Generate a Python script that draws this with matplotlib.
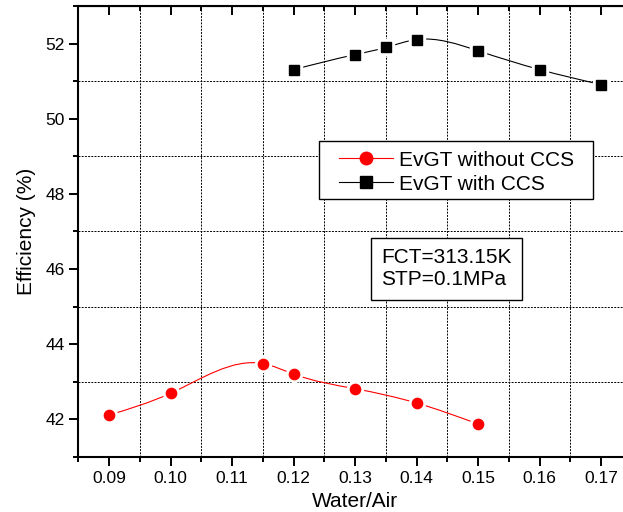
import numpy as np
import matplotlib
matplotlib.use("Agg")
import matplotlib.pyplot as plt
from matplotlib.path import Path
from matplotlib.patches import PathPatch, Rectangle
from matplotlib.lines import Line2D

plt.rcParams['font.family'] = ['Liberation Sans', 'DejaVu Sans']

# values
x_no_ccs = [0.09, 0.10, 0.115, 0.12, 0.13, 0.14, 0.15]
eff_no_ccs = [42.11, 42.69, 43.48, 43.20, 42.81, 42.43, 41.87]

x_ccs = [0.12, 0.13, 0.135, 0.14, 0.15, 0.16, 0.17]
eff_ccs = [51.31, 51.71, 51.90, 52.11, 51.81, 51.31, 50.91]

x_ticks = [0.09, 0.10, 0.11, 0.12, 0.13, 0.14, 0.15, 0.16, 0.17]
x_labels = ['0.09', '0.10', '0.11', '0.12', '0.13', '0.14', '0.15', '0.16', '0.17']
x_minor = [0.085, 0.095, 0.105, 0.115, 0.125, 0.135, 0.145, 0.155, 0.165, 0.175]
y_ticks = [42, 44, 46, 48, 50, 52]
y_minor = [41, 43, 45, 47, 49, 51, 53]


def spline_path(x, y):
    # natural cubic spline through the points, written as bezier segments
    x = np.asarray(x, float)
    y = np.asarray(y, float)
    n = len(x)
    h = np.diff(x)
    A = np.zeros((n, n))
    b = np.zeros(n)
    A[0, 0] = 1
    A[-1, -1] = 1
    for i in range(1, n - 1):
        A[i, i - 1] = h[i - 1]
        A[i, i] = 2 * (h[i - 1] + h[i])
        A[i, i + 1] = h[i]
        b[i] = 6 * ((y[i + 1] - y[i]) / h[i] - (y[i] - y[i - 1]) / h[i - 1])
    M = np.linalg.solve(A, b)
    verts = [(x[0], y[0])]
    codes = [Path.MOVETO]
    for i in range(n - 1):
        s = (y[i + 1] - y[i]) / h[i]
        d0 = s - h[i] * (2 * M[i] + M[i + 1]) / 6
        d1 = s + h[i] * (M[i] + 2 * M[i + 1]) / 6
        verts += [(x[i] + h[i] / 3, y[i] + d0 * h[i] / 3),
                  (x[i + 1] - h[i] / 3, y[i + 1] - d1 * h[i] / 3),
                  (x[i + 1], y[i + 1])]
        codes += [Path.CURVE4] * 3
    return Path(verts, codes)


fig = plt.figure(figsize=(6.23, 5.12), dpi=100)
ax = fig.add_axes([0.1257, 0.108, 0.8887, 0.880])

# curves
ax.add_patch(PathPatch(spline_path(x_no_ccs, eff_no_ccs), fill=False,
                       edgecolor='#ff0000', lw=0.8, zorder=2))
ax.add_patch(PathPatch(spline_path(x_ccs, eff_ccs), fill=False,
                       edgecolor='black', lw=0.8, zorder=2))

# white halo so the line stops short of the symbol
ax.plot(x_no_ccs, eff_no_ccs, 'o', ms=11.5, color='white', zorder=3)
ax.plot(x_ccs, eff_ccs, 's', ms=11, color='white', zorder=3)
ax.plot(x_no_ccs, eff_no_ccs, 'o', ms=7.4, color='#ff0000', mec='#ff0000', zorder=4)
ax.plot(x_ccs, eff_ccs, 's', ms=6.8, color='black', zorder=4)

ax.set_xlim(0.085, 0.175)
ax.set_ylim(41, 53)
ax.set_xticks(x_ticks)
ax.set_xticklabels(x_labels)
ax.set_xticks(x_minor, minor=True)
ax.set_yticks(y_ticks)
ax.set_yticks(y_minor, minor=True)

ax.grid(which='minor', ls=(0, (2, 1.3)), lw=0.7, color='black')
ax.grid(which='major', visible=False)
ax.set_axisbelow(True)

for sp in ax.spines.values():
    sp.set_linewidth(1.5)

ax.tick_params(which='major', direction='out', length=6.5, width=1.4,
               labelsize=12.5, pad=3)
ax.tick_params(which='minor', direction='out', length=3.8, width=1.4)
ax.tick_params(axis='x', which='major', pad=4)

# inward ticks on top and right
top = ax.secondary_xaxis('top')
top.set_xticks(x_ticks)
top.set_xticks(x_minor, minor=True)
top.tick_params(which='major', direction='in', length=6.5, width=1.4, labeltop=False)
top.tick_params(which='minor', direction='in', length=3.8, width=1.4)
right = ax.secondary_yaxis('right')
right.set_yticks(y_ticks)
right.set_yticks(y_minor, minor=True)
right.tick_params(which='major', direction='in', length=6.5, width=1.4, labelright=False)
right.tick_params(which='minor', direction='in', length=3.8, width=1.4)

ax.set_xlabel('Water/Air', fontsize=15, labelpad=4)
ax.set_ylabel('Efficiency (%)', fontsize=15, labelpad=7)

# legend frame drawn separately (Origin-style wide padding)
fig.patches.append(Rectangle((319 / 623, 1 - 199.3 / 512), 273.5 / 623, 58.3 / 512,
                             transform=fig.transFigure, fc='white', ec='black',
                             lw=1.0, zorder=5))
handles = [
    Line2D([], [], color='#ff0000', lw=0.8, marker='o', ms=9, mec='#ff0000'),
    Line2D([], [], color='black', lw=0.8, marker='s', ms=8),
]
leg = fig.legend(handles, ['EvGT without CCS', 'EvGT with CCS'],
                 loc='upper left', bbox_to_anchor=(339.3 / 623, 1 - 150.5 / 512),
                 borderaxespad=0, borderpad=0, frameon=False,
                 fontsize=15, handlelength=2.57, handletextpad=0.3,
                 labelspacing=0.25)
leg.set_zorder(6)

fig.text(446.7 / 623, 1 - 268.9 / 512, 'FCT=313.15K\nSTP=0.1MPa',
         fontsize=15, ha='center', va='center', multialignment='left',
         linespacing=1.2,
         bbox=dict(boxstyle='square,pad=0.5', fc='white', ec='black', lw=1.0))

fig.savefig('out.png', dpi=100)
